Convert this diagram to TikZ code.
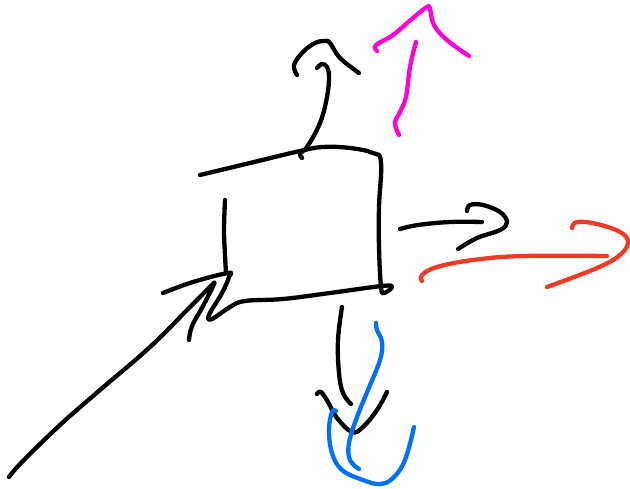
\documentclass[tikz,border=0pt]{standalone}
\definecolor{inkmagenta}{RGB}{255,0,214}
\definecolor{inkblue}{RGB}{0,112,255}
\definecolor{inkred}{RGB}{240,58,38}
\tikzset{ink/.style={line width=4.3pt,line cap=round,line join=round}}
\newcommand{\stroke}[2]{\draw[ink,#1] plot[smooth,tension=0.65] coordinates {#2};}
\begin{document}
\begin{tikzpicture}[x=1pt,y=-1pt]
\useasboundingbox (0,0) rectangle (630,488);
% box: top and right side, foot, and head of the incoming arrow
\stroke{black}{(200,175) (250,163) (300,151) (323,147) (350,148) (373,153) (381,162) (379,207) (379,247) (381,287) (384,293) (392,287) (382,286) (330,293) (283,299) (245,301) (230,307) (212,319) (209,315) (222,293) (229,277) (228,273) (193,282) (163,293)}
% box: left side
\stroke{black}{(225,200) (224,230) (225,255) (226,273)}
% incoming arrow
\stroke{black}{(9,477) (22,462) (60,425) (100,390) (150,347) (190,307) (210,287) (214,284) (203,306) (192,326) (189,340)}
% up arrow
\stroke{black}{(302,158) (300,153) (307,147) (320,123) (327,97) (329,77) (327,67) (322,64) (317,68)}
\stroke{black}{(297,75) (294,65) (303,52) (315,43) (325,41) (330,43) (340,58) (359,73)}
% magenta arrow
\stroke{inkmagenta}{(377,51) (376,45) (393,35) (413,18) (427,7) (430,9) (434,25) (447,40) (469,56)}
\stroke{inkmagenta}{(416,42) (410,67) (406,97) (400,112) (395,123) (399,135)}
% right arrow
\stroke{black}{(400,229) (418,225) (450,222) (482,222)}
\stroke{black}{(467,211) (470,205) (483,205) (500,212) (507,222) (500,230) (477,238) (458,249)}
% red arrow
\stroke{inkred}{(422,281) (422,275) (437,267) (473,260) (523,256) (607,256)}
\stroke{inkred}{(572,228) (577,222) (597,224) (620,232) (628,242) (620,255) (597,268) (547,287)}
% down arrow
\stroke{black}{(342,307) (338,340) (339,373) (343,393) (351,404)}
\stroke{black}{(317,394) (321,392) (328,402) (337,418) (352,432) (363,427) (377,410) (387,392)}
% blue arrow
\stroke{inkblue}{(376,323) (377,330) (382,342) (380,360) (368,390) (357,417) (349,443) (350,460) (359,469)}
\stroke{inkblue}{(336,411) (332,412) (329,430) (332,453) (342,470) (363,480) (380,484) (393,478) (405,460) (414,427)}
\end{tikzpicture}
\end{document}
